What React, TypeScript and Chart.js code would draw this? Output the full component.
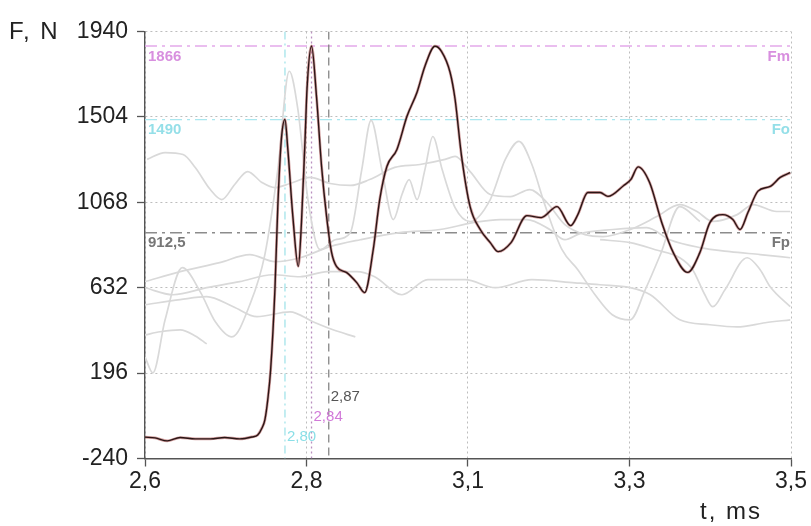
import { useEffect, useRef } from "react";
import { Chart, registerables } from "chart.js";

Chart.register(...registerables);

// ---- axes ----
const xTickValues = [2.6, 2.825, 3.05, 3.275, 3.5];
const xTickLabels = ["2,6", "2,8", "3,1", "3,3", "3,5"];
const yTickValues = [-240, 196, 632, 1068, 1504, 1940];

// ---- main force curve (t in ms, F in N) ----
const mainT = [2.600, 2.614, 2.631, 2.649, 2.670, 2.691, 2.711, 2.732, 2.749, 2.757, 2.763, 2.767, 2.771, 2.775, 2.781, 2.785, 2.790, 2.795, 2.799, 2.806, 2.8136, 2.818, 2.823, 2.8257, 2.832, 2.839, 2.846, 2.853, 2.860, 2.867, 2.881, 2.895, 2.906, 2.918, 2.927, 2.937, 2.951, 2.965, 2.979, 2.990, 3.004, 3.013, 3.025, 3.032, 3.041, 3.053, 3.067, 3.081, 3.092, 3.110, 3.132, 3.152, 3.174, 3.193, 3.203, 3.217, 3.234, 3.245, 3.267, 3.277, 3.287, 3.303, 3.320, 3.336, 3.356, 3.373, 3.387, 3.405, 3.419, 3.429, 3.440, 3.454, 3.471, 3.485, 3.499];
const mainF = [-131, -135, -150, -133, -140, -140, -133, -140, -130, -120, -84, -43, 59, 212, 622, 1046, 1389, 1491, 1338, 995, 741, 965, 1389, 1645, 1866, 1605, 1251, 995, 811, 739, 709, 658, 607, 827, 1082, 1251, 1338, 1507, 1630, 1763, 1865, 1839, 1732, 1594, 1304, 1045, 929, 862, 816, 862, 1000, 990, 1046, 949, 1005, 1118, 1118, 1098, 1154, 1185, 1249, 1169, 964, 811, 710, 811, 964, 1005, 980, 929, 1016, 1125, 1149, 1195, 1219];

// ---- faint background curves ----
const grayA_T = [2.603, 2.628, 2.653, 2.670, 2.691, 2.707, 2.725, 2.743, 2.763, 2.781, 2.802, 2.830, 2.858, 2.886, 2.913, 2.948, 2.983, 3.018, 3.032, 3.053, 3.081, 3.109, 3.136, 3.160, 3.185, 3.213, 3.238, 3.276, 3.313, 3.345, 3.369, 3.391, 3.425, 3.447, 3.480, 3.499];
const grayA_F = [1287, 1322, 1312, 1246, 1133, 1082, 1159, 1225, 1169, 1143, 1164, 1195, 1164, 1154, 1184, 1246, 1261, 1287, 1302, 1225, 1108, 1097, 1133, 1067, 954, 903, 893, 929, 995, 1056, 1021, 970, 1005, 1056, 1021, 1021];

const grayB_T = [2.600, 2.611, 2.628, 2.652, 2.677, 2.698, 2.721, 2.746, 2.767, 2.785, 2.801, 2.813, 2.827, 2.844, 2.865, 2.886, 2.902, 2.915, 2.930, 2.946, 2.958, 2.968, 2.979, 2.990, 3.001, 3.014, 3.032, 3.053, 3.081, 3.102, 3.121, 3.139, 3.157, 3.181, 3.203, 3.227, 3.251, 3.276, 3.297, 3.318, 3.345, 3.373];
const grayB_F = [279, 197, 468, 734, 611, 458, 381, 545, 801, 1235, 1737, 1542, 1082, 826, 877, 913, 1235, 1486, 1235, 980, 1108, 1184, 1082, 1235, 1404, 1235, 1041, 970, 1082, 1287, 1379, 1261, 1056, 826, 724, 596, 494, 468, 622, 801, 1046, 970];

const grayC_T = [2.600, 2.649, 2.704, 2.746, 2.781, 2.816, 2.858, 2.900, 2.955, 3.011, 3.057, 3.095, 3.132, 3.164, 3.185, 3.206, 3.252, 3.299, 3.331, 3.373, 3.415, 3.457, 3.499];
const grayC_F = [663, 714, 760, 801, 765, 785, 842, 877, 913, 929, 964, 980, 980, 929, 877, 908, 929, 939, 877, 837, 816, 801, 785];

const grayD_T = [2.600, 2.639, 2.686, 2.732, 2.778, 2.816, 2.854, 2.895, 2.920, 2.958, 2.994, 3.046, 3.088, 3.139, 3.199, 3.234, 3.276, 3.304, 3.345, 3.387, 3.425, 3.464, 3.499];
const grayD_F = [632, 596, 632, 663, 698, 688, 714, 714, 688, 596, 673, 673, 632, 673, 657, 647, 632, 596, 468, 443, 432, 453, 468];

const grayE_T = [2.600, 2.649, 2.686, 2.723, 2.756, 2.802, 2.834, 2.862, 2.893];
const grayE_F = [545, 571, 586, 535, 484, 509, 458, 417, 381];

const grayF_T = [2.600, 2.621, 2.649, 2.670, 2.686];
const grayF_F = [391, 407, 417, 386, 345];

const grayG_T = [3.234, 3.276, 3.311, 3.345, 3.363, 3.380, 3.391, 3.408, 3.439, 3.457, 3.471, 3.499];
const grayG_F = [877, 862, 826, 785, 724, 596, 535, 622, 785, 724, 637, 535];

// ---- reference levels and markers ----
const refValues = [1866, 1490, 912.5];
const refLeftLabels = ["1866", "1490", "912,5"];
const refRightLabels = ["Fm", "Fo", "Fp"];
const markerTimes = [2.795, 2.832, 2.856];
const markerLabels = ["2,80", "2,84", "2,87"];

// ---- styles ----
const FONT = "'Liberation Sans', Arial, sans-serif";
const refLineColors = ["#e4a9ea", "#a9e7ef", "#8c8c8c"];
const refTextColors = ["#d88fdf", "#94dfe8", "#777777"];
const markerLineColors = ["#a3e3ea", "#b98fbf", "#858585"];
const markerDash = [[8, 4, 2, 4], [2, 3], [8, 5]];
const markerTextColors = ["#8adfe7", "#d27ad9", "#555555"];
const markerTextOffsets = [22, 42, 62];

const zip = (ts: number[], fs: number[]) => ts.map((t, i) => ({ x: t, y: fs[i] }));

const refPlugin = {
  id: "refPlugin",
  beforeDatasetsDraw(chart: any) {
    const { ctx, chartArea: a, scales } = chart;
    const x = scales.x;
    const y = scales.y;
    ctx.save();
    ctx.beginPath();
    ctx.rect(a.left, a.top, a.right - a.left, a.bottom - a.top);
    ctx.clip();
    refValues.forEach((v, i) => {
      const py = y.getPixelForValue(v);
      ctx.strokeStyle = refLineColors[i];
      ctx.lineWidth = 1.4;
      ctx.setLineDash([12, 5, 3, 5]);
      ctx.beginPath();
      ctx.moveTo(a.left, py);
      ctx.lineTo(a.right, py);
      ctx.stroke();
    });
    markerTimes.forEach((t, i) => {
      const px = x.getPixelForValue(t);
      ctx.strokeStyle = markerLineColors[i];
      ctx.lineWidth = 1.3;
      ctx.setLineDash(markerDash[i]);
      ctx.beginPath();
      ctx.moveTo(px, a.top);
      ctx.lineTo(px, a.bottom);
      ctx.stroke();
    });
    ctx.restore();
  },
  afterDatasetsDraw(chart: any) {
    const { ctx, chartArea: a, scales } = chart;
    const x = scales.x;
    const y = scales.y;
    ctx.save();
    ctx.font = `bold 15px ${FONT}`;
    ctx.textBaseline = "top";
    refValues.forEach((v, i) => {
      const py = y.getPixelForValue(v);
      ctx.fillStyle = refTextColors[i];
      ctx.textAlign = "left";
      ctx.fillText(refLeftLabels[i], a.left + 3, py + 3);
      ctx.textAlign = "right";
      ctx.fillText(refRightLabels[i], a.right - 1, py + 3);
    });
    ctx.font = `15px ${FONT}`;
    ctx.textBaseline = "middle";
    ctx.textAlign = "left";
    markerTimes.forEach((t, i) => {
      const px = x.getPixelForValue(t);
      ctx.fillStyle = markerTextColors[i];
      ctx.fillText(markerLabels[i], px + 2, a.bottom - markerTextOffsets[i]);
    });
    ctx.restore();
  },
  afterDraw(chart: any) {
    const { ctx } = chart;
    ctx.save();
    ctx.fillStyle = "#222222";
    ctx.font = `24px ${FONT}`;
    ctx.textBaseline = "alphabetic";
    ctx.textAlign = "left";
    try { (ctx as any).letterSpacing = "2px"; } catch (e) {}
    ctx.fillText("F, N", 9, 39);
    ctx.fillText("t, ms", 700, 519);
    ctx.restore();
  },
};

export default function App() {
  const canvasRef = useRef<HTMLCanvasElement | null>(null);

  useEffect(() => {
    if (!canvasRef.current) return;
    const gray = (ts: number[], fs: number[]) => ({
      data: zip(ts, fs),
      borderColor: "#d9d9d9",
      borderWidth: 1.7,
      pointRadius: 0,
      cubicInterpolationMode: "monotone" as const,
      order: 3,
    });
    const chart = new Chart(canvasRef.current, {
      type: "line",
      data: {
        datasets: [
          {
            data: zip(mainT, mainF),
            borderColor: "#2a1616",
            borderWidth: 1.4,
            pointRadius: 0,
            cubicInterpolationMode: "monotone",
            order: 0,
          },
          {
            data: zip(mainT, mainF),
            borderColor: "rgba(180,95,95,0.6)",
            borderWidth: 2.8,
            pointRadius: 0,
            cubicInterpolationMode: "monotone",
            order: 1,
          },
          gray(grayA_T, grayA_F),
          gray(grayB_T, grayB_F),
          gray(grayC_T, grayC_F),
          gray(grayD_T, grayD_F),
          gray(grayE_T, grayE_F),
          gray(grayF_T, grayF_F),
          gray(grayG_T, grayG_F),
        ],
      },
      options: {
        animation: false,
        responsive: true,
        maintainAspectRatio: false,
        layout: { padding: { left: 0, top: 31.5, right: 20, bottom: 0 } },
        plugins: { legend: { display: false }, tooltip: { enabled: false } },
        scales: {
          x: {
            type: "linear",
            min: 2.6,
            max: 3.5,
            afterBuildTicks: (scale: any) => {
              scale.ticks = xTickValues.map((v) => ({ value: v }));
            },
            afterFit: (scale: any) => {
              scale.height = 67.5;
            },
            ticks: {
              autoSkip: false,
              maxRotation: 0,
              padding: 1,
              color: "#222222",
              font: { family: FONT, size: 23 },
              callback: (_v: any, i: number) => xTickLabels[i],
            },
            grid: {
              color: "#bdbdbd",
              lineWidth: 1,
              tickColor: "#555555",
              tickLength: 8,
              tickWidth: 1.3,
              tickBorderDash: [],
            },
            border: { color: "#555555", width: 1.4, dash: [2, 3] },
          },
          y: {
            type: "linear",
            min: -240,
            max: 1940,
            afterBuildTicks: (scale: any) => {
              scale.ticks = yTickValues.map((v) => ({ value: v }));
            },
            afterFit: (scale: any) => {
              scale.width = 145;
            },
            ticks: {
              autoSkip: false,
              padding: 9,
              color: "#222222",
              font: { family: FONT, size: 23 },
              callback: (v: any) => String(v),
            },
            grid: {
              color: "#bdbdbd",
              lineWidth: 1,
              tickColor: "#555555",
              tickLength: 8,
              tickWidth: 1.3,
              tickBorderDash: [],
            },
            border: { color: "#555555", width: 1.4, dash: [2, 3] },
          },
        },
      },
      plugins: [refPlugin],
    });
    return () => chart.destroy();
  }, []);

  return (
    <div style={{ position: "absolute", left: 0, top: 0, width: 811, height: 526, background: "#ffffff" }}>
      <canvas ref={canvasRef} />
    </div>
  );
}
